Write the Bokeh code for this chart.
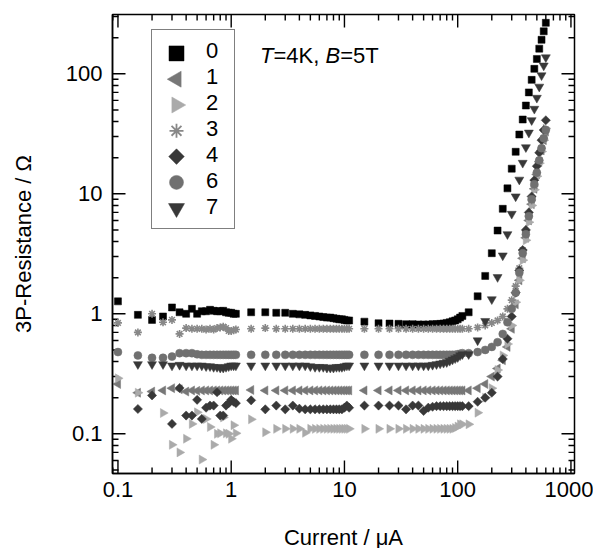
import numpy as np
from bokeh.plotting import figure
from bokeh.models import (FixedTicker, CustomJSTickFormatter, Legend, LegendItem,
                          Label, ColumnDataSource, Range1d, Whisker)
from bokeh.embed import file_html
from bokeh.resources import INLINE

nan = float("nan")

# Current / uA (shared by all series)
current = [0.10, 0.15, 0.20, 0.25, 0.30, 0.35, 0.40, 0.45, 0.50, 0.55, 0.60, 0.65, 0.70, 0.75, 0.80, 0.85, 0.90, 0.95, 1.00, 1.05, 1.10,
           1.5, 2.0, 2.5, 3.0, 3.5, 4.0, 4.5, 5.0, 5.5, 6.0, 6.5, 7.0, 7.5, 8.0, 8.5, 9.0, 9.5, 10.0, 10.5, 11.0,
           15, 20, 25, 30, 35, 40, 45, 50, 55, 60, 65, 70, 75, 80, 85, 90, 95, 100, 105, 110,
           125, 150, 175, 200, 225, 250, 275, 300, 325, 350, 375, 400, 425, 450, 475, 500, 525, 550, 575, 600]

r0 = [1.27, 0.98, 0.89, 0.95, 1.13, 1.03, 1.00, 1.10, 1.00, 1.05, 1.05, 1.08, 1.06, 1.05, 1.05, 1.06, 1.03, 1.02, 1.02, 1.00, 1.00,
      1.03, 1.03, 1.02, 1.02, 1.00, 0.99, 0.98, 0.97, 0.96, 0.95, 0.94, 0.93, 0.93, 0.92, 0.91, 0.90, 0.90, 0.89, 0.88, 0.88,
      0.86, 0.835, 0.83, 0.825, 0.82, 0.82, 0.815, 0.815, 0.815, 0.82, 0.82, 0.825, 0.83, 0.84, 0.85, 0.865, 0.88, 0.90, 0.93, 0.96,
      1.03, 1.40, 2.07, 3.2, 4.94, 7.5, 11.1, 16.2, 22.4, 31.2, 41.6, 54.4, 70, 89, 110, 133, 162, 192, 226, 266]

r1 = [0.26, 0.22, 0.225, 0.23, 0.24, 0.235, 0.225, 0.23, 0.228, 0.23, 0.23, 0.23, 0.23, 0.23, 0.23, 0.23, 0.23, 0.23, 0.23, 0.23, 0.23,
      0.232, 0.23, 0.23, 0.23, 0.23, 0.23, 0.23, 0.23, 0.23, 0.23, 0.23, 0.23, 0.23, 0.23, 0.23, 0.23, 0.23, 0.23, 0.23, 0.23,
      0.23, 0.23, 0.23, 0.23, 0.23, 0.23, 0.23, 0.23, 0.23, 0.23, 0.23, 0.23, 0.23, 0.23, 0.23, 0.23, 0.23, 0.23, 0.23, 0.23,
      0.23, 0.24, 0.26, 0.30, 0.35, 0.41, 0.53, 0.75, 1.2, 1.9, 2.9, 4.3, 6.0, 8.2, 11, 14.5, 18.5, 23, 28, 33]

r2 = [0.29, 0.22, nan, 0.149, 0.081, 0.070, 0.091, 0.121, 0.151, 0.061, 0.133, 0.114, 0.081, 0.100, 0.101, 0.137, 0.101, 0.100, 0.091, 0.118, 0.101,
      0.132, 0.103, 0.110, 0.110, 0.110, 0.110, 0.102, 0.110, 0.110, 0.110, 0.110, 0.110, 0.110, 0.110, 0.110, 0.110, 0.110, 0.110, 0.110, 0.110,
      0.110, 0.110, 0.110, 0.110, 0.110, 0.110, 0.110, 0.110, 0.110, 0.110, 0.110, 0.110, 0.110, 0.110, 0.110, 0.110, 0.112, 0.115, 0.12, 0.12,
      0.12, 0.15, 0.20, 0.24, 0.34, 0.45, 0.56, 0.80, 1.25, 1.9, 2.8, 4.1, 5.8, 8.0, 10.8, 14, 18, 22.5, 28, 35]

r3 = [0.84, 0.70, 1.00, 0.85, 0.89, 0.68, 0.76, 0.75, 0.75, 0.75, 0.74, 0.75, 0.74, 0.76, 0.77, 0.78, 0.76, 0.72, 0.72, 0.73, 0.74,
      0.75, 0.76, 0.75, 0.75, 0.75, 0.75, 0.75, 0.75, 0.75, 0.75, 0.75, 0.75, 0.75, 0.75, 0.75, 0.75, 0.75, 0.75, 0.75, 0.75,
      0.75, 0.75, 0.75, 0.75, 0.75, 0.75, 0.75, 0.75, 0.75, 0.75, 0.75, 0.75, 0.75, 0.75, 0.75, 0.75, 0.75, 0.75, 0.75, 0.75,
      0.75, 0.77, 0.80, 0.84, 0.88, 0.95, 1.1, 1.3, 1.7, 2.4, 3.4, 4.8, 6.6, 8.8, 11.6, 15, 19, 24, 29, 34]

r4 = [nan, 0.161, 0.209, nan, 0.121, 0.241, 0.142, 0.142, 0.192, 0.133, 0.165, 0.172, 0.172, 0.222, 0.142, 0.142, 0.172, 0.180, 0.192, 0.185, 0.180,
      0.19, 0.16, 0.172, 0.16, 0.172, 0.162, 0.16, 0.16, 0.16, 0.16, 0.16, 0.16, 0.16, 0.16, 0.16, 0.16, 0.16, 0.165, 0.172, 0.165,
      0.172, 0.172, 0.172, 0.172, 0.16, 0.172, 0.172, 0.155, 0.165, 0.168, 0.17, 0.17, 0.17, 0.17, 0.17, 0.17, 0.17, 0.17, 0.17, 0.17,
      0.17, 0.185, 0.20, 0.22, 0.30, 0.42, 0.62, 0.95, 1.5, 2.3, 3.4, 5.0, 7.0, 9.5, 13, 17, 22, 28, 34, 41]

r6 = [0.48, 0.45, 0.43, 0.43, 0.44, 0.47, 0.47, 0.47, 0.46, 0.455, 0.455, 0.455, 0.455, 0.455, 0.455, 0.455, 0.455, 0.455, 0.455, 0.455, 0.455,
      0.455, 0.455, 0.455, 0.455, 0.455, 0.455, 0.455, 0.455, 0.455, 0.455, 0.455, 0.455, 0.455, 0.455, 0.455, 0.455, 0.455, 0.455, 0.455, 0.455,
      0.455, 0.455, 0.455, 0.455, 0.455, 0.455, 0.455, 0.455, 0.455, 0.455, 0.455, 0.455, 0.455, 0.455, 0.455, 0.455, 0.455, 0.46, 0.465, 0.47,
      0.47, 0.48, 0.50, 0.53, 0.58, 0.68, 0.85, 1.1, 1.5, 2.2, 3.2, 4.6, 6.5, 9, 12, 15, 19, 24, 29, 34]

r7 = [nan, 0.38, 0.38, 0.38, 0.37, 0.375, 0.37, 0.37, 0.37, 0.37, 0.365, 0.365, 0.36, 0.36, 0.355, 0.355, 0.36, 0.365, 0.37, 0.37, 0.37,
      0.37, 0.37, 0.37, 0.37, 0.37, 0.37, 0.37, 0.365, 0.36, 0.36, 0.36, 0.355, 0.355, 0.355, 0.36, 0.36, 0.36, 0.365, 0.37, 0.37,
      0.37, 0.37, 0.37, 0.37, 0.37, 0.37, 0.37, 0.37, 0.37, 0.375, 0.38, 0.385, 0.39, 0.395, 0.405, 0.415, 0.425, 0.435, 0.45, 0.46,
      0.46, 0.60, 0.87, 1.32, 2.02, 3.06, 4.6, 6.8, 9.5, 13.1, 18.1, 24.4, 32.3, 41, 51, 63, 78, 97, 117, 137]

series_labels = ["0", "1", "2", "3", "4", "6", "7"]
series_values = [r0, r1, r2, r3, r4, r6, r7]

x_major = [0.1, 1, 10, 100, 1000]
y_major = [0.1, 1, 10, 100]

FONT = "Liberation Sans"
FS = "22px"
FW, FH = 462, 459
XMIN, XMAX = 0.0895, 1075
YMIN, YMAX = 0.0467, 312

p = figure(x_axis_type="log", y_axis_type="log", output_backend="svg", toolbar_location=None,
           frame_width=FW, frame_height=FH, min_border_left=112, min_border_top=14,
           min_border_right=19, min_border_bottom=75,
           x_range=Range1d(XMIN, XMAX), y_range=Range1d(YMIN, YMAX),
           background_fill_color="white", border_fill_color="white")
p.grid.visible = False
p.outline_line_color = "black"
p.outline_line_width = 1.5

x_minor = [k * 10.0 ** e for e in range(-2, 4) for k in range(2, 10)]
y_minor = [k * 10.0 ** e for e in range(-2, 3) for k in range(2, 10)]
x_minor = [v for v in x_minor if XMIN < v < XMAX]
y_minor = [v for v in y_minor if YMIN < v < YMAX]
fmt = CustomJSTickFormatter(code="return String(tick);")


def style_axis(ax):
    ax.axis_line_color = "black"
    ax.axis_line_width = 1.5
    ax.major_tick_in = 0
    ax.major_tick_out = 0
    ax.minor_tick_in = 0
    ax.minor_tick_out = 0
    ax.major_label_text_font = FONT
    ax.major_label_text_color = "black"
    ax.major_label_text_font_size = FS
    ax.axis_label_text_font = FONT
    ax.axis_label_text_font_size = FS
    ax.axis_label_text_font_style = "normal"
    ax.axis_label_text_color = "black"


bx = p.xaxis[0]
bx.ticker = FixedTicker(ticks=x_major, minor_ticks=[])
bx.formatter = fmt
style_axis(bx)
bx.major_label_standoff = 8
bx.axis_label = "Current / μA"
bx.axis_label_standoff = 25

ly = p.yaxis[0]
ly.ticker = FixedTicker(ticks=y_major, minor_ticks=[])
ly.formatter = fmt
style_axis(ly)
ly.major_label_standoff = 10
ly.axis_label = "3P-Resistance / Ω"
ly.axis_label_standoff = 27

# inward tick marks on all four sides, drawn as whiskers (position in data, length in screen px)
MAJ, MIN = 13, 6


def add_ticks(values, length, dimension, near):
    n = len(values)
    far = FH if dimension == "height" else FW
    lo, hi = (0, length) if near else (far - length, far)
    src = ColumnDataSource(dict(base=values, lower=[lo] * n, upper=[hi] * n))
    p.add_layout(Whisker(source=src, base="base", lower="lower", upper="upper",
                         lower_units="screen", upper_units="screen", dimension=dimension,
                         lower_head=None, upper_head=None,
                         line_color="black", line_width=1.4))


for near in (True, False):
    add_ticks(x_major, MAJ, "height", near)
    add_ticks(x_minor, MIN, "height", near)
    add_ticks(y_major, MAJ, "width", near)
    add_ticks(y_minor, MIN, "width", near)

styles = [
    dict(marker="square", color="#000000", size=7, angle=0.0, key_size=15),
    dict(marker="triangle", color="#777777", size=9, angle=np.pi / 2, key_size=16),
    dict(marker="triangle", color="#aaaaaa", size=9, angle=-np.pi / 2, key_size=16),
    dict(marker="asterisk", color="#888888", size=8, angle=0.0, key_size=14),
    dict(marker="square", color="#383838", size=6.5, angle=np.pi / 4, key_size=11),
    dict(marker="circle", color="#707070", size=8, angle=0.0, key_size=14),
    dict(marker="inverted_triangle", color="#383838", size=9, angle=0.0, key_size=16),
]

# legend layout (screen px, relative to the plot frame)
LEG_LEFT, LEG_TOP, LEG_PAD, ROW = 39, 18, 8, 25.8
KEY_X = LEG_LEFT + LEG_PAD + 17
key_x = XMIN * (XMAX / XMIN) ** (KEY_X / FW)

items = []
for i, (lab, vals, st) in enumerate(zip(series_labels, series_values, styles)):
    src = ColumnDataSource(dict(x=current, y=vals))
    lw = 1.6 if st["marker"] == "asterisk" else 0.5
    p.scatter("x", "y", source=src, marker=st["marker"], size=st["size"], angle=st["angle"],
              fill_color=st["color"], line_color=st["color"], line_width=lw)
    # invisible renderer that the legend entry refers to
    ghost = ColumnDataSource(dict(x=current, y=[nan] * len(current)))
    gr = p.scatter("x", "y", source=ghost, marker=st["marker"], size=st["size"],
                   fill_alpha=0, line_alpha=0)
    items.append(LegendItem(label=lab, renderers=[gr]))
    # legend key marker (keeps the rotation and size of the key), seen through the legend box
    row_center = LEG_TOP + LEG_PAD + ROW / 2 + i * ROW
    key_y = YMAX / (YMAX / YMIN) ** (row_center / FH)
    ks = ColumnDataSource(dict(x=[key_x], y=[key_y]))
    p.scatter("x", "y", source=ks, marker=st["marker"], size=st["key_size"], angle=st["angle"],
              fill_color=st["color"], line_color=st["color"],
              line_width=(1.8 if st["marker"] == "asterisk" else 0.5))

LEG_H = 7 * ROW + 2 * LEG_PAD
legend = Legend(items=items, location=(LEG_LEFT, FH - LEG_TOP - LEG_H), orientation="vertical",
                label_text_font=FONT, label_text_font_size=FS, label_text_color="black",
                glyph_width=34, glyph_height=20, label_height=20, label_standoff=12,
                spacing=0, padding=LEG_PAD, margin=0,
                border_line_color="black", border_line_width=1.3,
                background_fill_alpha=0.0)
p.add_layout(legend, "center")

# annotation "T=4K, B=5T" (italic T and B)
ann_y = 418
parts = [("T", 147.5, "italic"), ("=4K,", 161.0, "normal"), ("B", 213.0, "italic"), ("=5T", 227.7, "normal")]
for txt, xx, style in parts:
    p.add_layout(Label(x=xx, y=ann_y, x_units="screen", y_units="screen", text=txt,
                       text_font=FONT, text_font_size=FS, text_font_style=style,
                       text_color="black", text_baseline="alphabetic", text_align="left"))

open("out.html", "w").write(file_html(p, INLINE))
